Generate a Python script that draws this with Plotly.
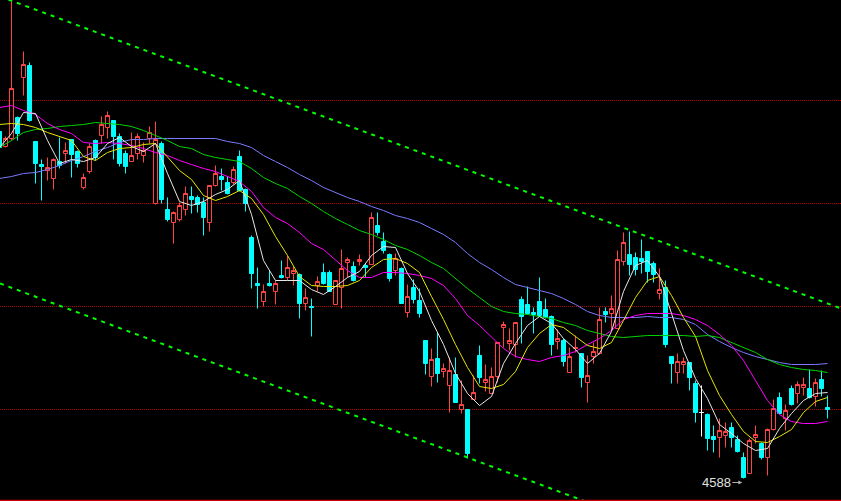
import plotly.graph_objects as go

# ---------------- data (prices) ----------------
open_ = [4935, 4920, 4928, 4949, 4989, 5001, 4925, 4902, 4896, 4888,
         4905, 4913, 4927, 4915, 4879, 4895, 4926, 4931, 4939, 4946,
         4930, 4913, 4905, 4913, 4911, 4928, 4863, 4923, 4857, 4844,
         4847, 4857, 4870, 4869, 4864, 4844, 4881, 4890, 4884, 4884,
         4910, 4877, 4829, 4783, 4765, 4783, 4775, 4791, 4789, 4793,
         4792, 4763, 4760, 4781, 4794, 4794, 4762, 4779, 4804, 4800,
         4805, 4801, 4802, 4841, 4825, 4812, 4796, 4798, 4754, 4779,
         4766, 4726, 4690, 4708, 4695, 4681, 4692, 4657, 4657, 4667,
         4711, 4684, 4673, 4690, 4739, 4723, 4722, 4767, 4762, 4754,
         4765, 4757, 4750, 4725, 4726, 4694, 4718, 4713, 4684, 4710,
         4713, 4755, 4753, 4738, 4805, 4812, 4809, 4808, 4815, 4803,
         4773, 4779, 4710, 4694, 4702, 4704, 4683, 4654, 4652, 4630,
         4629, 4631, 4639, 4627, 4609, 4593, 4629, 4623, 4609, 4637,
         4669, 4648, 4678, 4673, 4679, 4678, 4670, 4687, 4659]
high = [4938, 4930, 5076, 4950, 5015, 5004, 4925, 4907, 4909, 4908,
        4929, 4924, 4927, 4916, 4893, 4923, 4927, 4950, 4955, 4946,
        4933, 4916, 4934, 4933, 4924, 4940, 4945, 4925, 4869, 4855,
        4864, 4880, 4880, 4871, 4869, 4881, 4901, 4898, 4890, 4900,
        4916, 4878, 4831, 4799, 4782, 4796, 4786, 4806, 4811, 4800,
        4793, 4778, 4768, 4790, 4803, 4796, 4786, 4817, 4809, 4805,
        4812, 4803, 4854, 4854, 4834, 4813, 4813, 4799, 4782, 4787,
        4778, 4726, 4718, 4734, 4703, 4709, 4709, 4686, 4657, 4691,
        4721, 4702, 4699, 4724, 4745, 4738, 4744, 4770, 4780, 4759,
        4789, 4768, 4751, 4737, 4728, 4719, 4731, 4713, 4711, 4724,
        4759, 4759, 4771, 4816, 4834, 4835, 4814, 4827, 4815, 4805,
        4798, 4786, 4710, 4713, 4709, 4704, 4686, 4681, 4653, 4641,
        4648, 4644, 4644, 4631, 4614, 4628, 4641, 4624, 4638, 4667,
        4674, 4662, 4681, 4685, 4689, 4697, 4688, 4696, 4671]
low = [4916, 4919, 4926, 4926, 4971, 4945, 4883, 4866, 4886, 4877,
       4898, 4903, 4889, 4899, 4877, 4893, 4906, 4923, 4928, 4907,
       4900, 4893, 4905, 4907, 4904, 4923, 4862, 4863, 4845, 4823,
       4845, 4851, 4853, 4854, 4831, 4835, 4880, 4876, 4872, 4882,
       4875, 4855, 4778, 4758, 4760, 4780, 4762, 4788, 4786, 4781,
       4748, 4756, 4730, 4775, 4782, 4775, 4762, 4758, 4789, 4785,
       4801, 4789, 4802, 4831, 4813, 4785, 4791, 4763, 4749, 4763,
       4749, 4692, 4680, 4684, 4689, 4654, 4664, 4653, 4608, 4667,
       4683, 4675, 4673, 4684, 4719, 4716, 4709, 4723, 4752, 4733,
       4750, 4748, 4711, 4717, 4700, 4694, 4714, 4679, 4664, 4703,
       4712, 4744, 4736, 4738, 4801, 4791, 4791, 4793, 4784, 4784,
       4767, 4719, 4683, 4683, 4693, 4676, 4644, 4630, 4616, 4614,
       4609, 4619, 4619, 4614, 4588, 4593, 4623, 4607, 4591, 4636,
       4652, 4636, 4661, 4663, 4671, 4668, 4660, 4670, 4648]
close = [4919, 4928, 4978, 4933, 5002, 4946, 4903, 4900, 4899, 4907,
         4901, 4916, 4912, 4903, 4889, 4920, 4909, 4942, 4951, 4930,
         4903, 4900, 4911, 4930, 4916, 4934, 4927, 4867, 4847, 4854,
         4861, 4873, 4867, 4862, 4849, 4881, 4893, 4887, 4873, 4897,
         4876, 4863, 4793, 4781, 4775, 4781, 4783, 4789, 4799, 4796,
         4763, 4769, 4759, 4785, 4783, 4775, 4786, 4798, 4807, 4786,
         4807, 4799, 4849, 4834, 4816, 4788, 4808, 4763, 4770, 4767,
         4753, 4703, 4707, 4693, 4698, 4696, 4664, 4662, 4613, 4674,
         4689, 4687, 4690, 4724, 4742, 4726, 4744, 4750, 4753, 4752,
         4751, 4749, 4722, 4728, 4705, 4710, 4719, 4689, 4691, 4715,
         4747, 4752, 4758, 4807, 4824, 4802, 4797, 4805, 4795, 4792,
         4777, 4722, 4703, 4705, 4705, 4689, 4654, 4654, 4628, 4627,
         4636, 4635, 4629, 4615, 4589, 4626, 4632, 4609, 4637, 4658,
         4653, 4656, 4662, 4682, 4682, 4669, 4684, 4678, 4657]

# moving averages, every second bar
ma_idx = list(range(0, 139, 2))
ma5 = [4919, 4933, 4954, 4953, 4926, 4903, 4907, 4905, 4909, 4923,
       4929, 4920, 4915, 4923, 4893, 4865, 4861, 4865, 4872, 4877,
       4886, 4852, 4806, 4786, 4786, 4786, 4777, 4772, 4780, 4789,
       4795, 4811, 4820, 4819, 4793, 4775, 4746, 4722, 4693, 4673,
       4661, 4670, 4703, 4723, 4741, 4750, 4743, 4728, 4717, 4703,
       4713, 4735, 4775, 4801, 4806, 4790, 4753, 4716, 4688, 4668,
       4642, 4633, 4623, 4616, 4618, 4638, 4653, 4666, 4673, 4674]
ma10 = [4942, 4943, 4942, 4939, 4934, 4930, 4926, 4910, 4906, 4914,
        4918, 4919, 4922, 4923, 4909, 4896, 4887, 4871, 4866, 4870,
        4876, 4868, 4852, 4830, 4811, 4790, 4781, 4780, 4780, 4781,
        4786, 4799, 4807, 4808, 4803, 4794, 4770, 4747, 4722, 4699,
        4680, 4678, 4682, 4695, 4719, 4733, 4742, 4739, 4730, 4721,
        4718, 4724, 4746, 4769, 4786, 4790, 4771, 4749, 4730, 4696,
        4671, 4652, 4635, 4625, 4624, 4630, 4637, 4654, 4665, 4669]
ma20 = [4959, 4961, 4956, 4952, 4943, 4937, 4933, 4924, 4923, 4924,
        4923, 4921, 4918, 4914, 4911, 4906, 4902, 4898, 4895, 4890,
        4885, 4875, 4859, 4849, 4843, 4834, 4823, 4817, 4806, 4796,
        4789, 4789, 4794, 4794, 4793, 4791, 4788, 4781, 4768, 4751,
        4741, 4730, 4718, 4710, 4707, 4705, 4709, 4711, 4715, 4722,
        4728, 4736, 4747, 4751, 4753, 4753, 4753, 4751, 4747, 4741,
        4732, 4721, 4706, 4686, 4666, 4652, 4645, 4643, 4643, 4645]
ma40 = [4919, 4926, 4934, 4937, 4938, 4940, 4941, 4942, 4944, 4943,
        4942, 4940, 4936, 4931, 4926, 4920, 4918, 4912, 4909, 4907,
        4905, 4898, 4889, 4883, 4878, 4870, 4863, 4855, 4848, 4842,
        4836, 4832, 4827, 4821, 4817, 4811, 4804, 4798, 4788, 4778,
        4769, 4760, 4755, 4753, 4752, 4750, 4748, 4744, 4741, 4736,
        4733, 4730, 4729, 4730, 4731, 4731, 4731, 4731, 4730, 4731,
        4729, 4724, 4719, 4714, 4707, 4702, 4699, 4697, 4696, 4694]
ma60 = [4888, 4890, 4893, 4894, 4897, 4901, 4906, 4910, 4915, 4919,
        4924, 4927, 4927, 4928, 4928, 4928, 4928, 4928, 4928, 4925,
        4923, 4919, 4911, 4905, 4899, 4892, 4886, 4879, 4874, 4869,
        4865, 4860, 4856, 4851, 4848, 4844, 4838, 4832, 4824, 4813,
        4804, 4797, 4789, 4782, 4779, 4776, 4773, 4768, 4762, 4755,
        4751, 4749, 4749, 4749, 4750, 4749, 4749, 4747, 4742, 4732,
        4725, 4719, 4714, 4710, 4707, 4704, 4702, 4702, 4702, 4703]

grid_levels = [4966, 4863, 4760, 4657]
upper_channel = [5070, 4758]   # left edge, right edge
lower_channel = [4783, 4470]
low_label = "4588"

# ---------------- figure ----------------
UP = "#ff4444"
DOWN = "#00ffff"
x_all = list(range(len(open_)))

def subset(cond):
    idx = [i for i in x_all if cond(i)]
    return (idx, [open_[i] for i in idx], [high[i] for i in idx],
            [low[i] for i in idx], [close[i] for i in idx])

fig = go.Figure()
for cond, lc, fc in [
    (lambda i: close[i] > open_[i], UP, "#000000"),
    (lambda i: close[i] < open_[i], DOWN, DOWN),
    (lambda i: close[i] == open_[i], "#ffffff", "#ffffff"),
]:
    xi, o, h, l, c = subset(cond)
    fig.add_trace(go.Candlestick(
        x=xi, open=o, high=h, low=l, close=c,
        increasing=dict(line=dict(color=lc, width=1), fillcolor=fc),
        decreasing=dict(line=dict(color=lc, width=1), fillcolor=fc),
        whiskerwidth=0, showlegend=False, hoverinfo="skip"))

for vals, col in [(ma60, "#7a7aff"), (ma40, "#00d400"), (ma20, "#ff00ff"),
                  (ma10, "#e6e600"), (ma5, "#e8e8e8")]:
    fig.add_trace(go.Scatter(x=ma_idx, y=vals, mode="lines",
                             line=dict(color=col, width=1),
                             showlegend=False, hoverinfo="skip"))

shapes = []
for g in grid_levels:
    shapes.append(dict(type="line", xref="paper", x0=0, x1=1, yref="y", y0=g, y1=g,
                       line=dict(color="#b00000", width=1, dash="1px,1px"), layer="below"))
for ch in (upper_channel, lower_channel):
    shapes.append(dict(type="line", xref="paper", x0=0, x1=1, yref="y", y0=ch[0], y1=ch[1],
                       line=dict(color="#00ff00", width=2, dash="4px,5px")))
shapes.append(dict(type="line", xref="paper", x0=0, x1=1, yref="paper", y0=0.001, y1=0.001,
                   line=dict(color="#d00000", width=1.5)))

low_i = low.index(min(low))
fig.update_layout(
    width=841, height=501,
    margin=dict(l=0, r=0, t=0, b=0, pad=0),
    paper_bgcolor="#000000", plot_bgcolor="#000000",
    xaxis=dict(range=[1 / 12, 140.25], visible=False, rangeslider=dict(visible=False),
               fixedrange=True),
    yaxis=dict(range=[4565.5, 5066.5], visible=False, fixedrange=True),
    boxgap=0.33, boxgroupgap=0,
    shapes=shapes,
    annotations=[dict(x=low_i - 0.2, y=min(low) - 4, xref="x", yref="y", text=low_label,
                      showarrow=True, ax=-26, ay=0, arrowhead=2, arrowsize=0.8,
                      arrowwidth=1, arrowcolor="#b0b0b0", standoff=0,
                      font=dict(family="Liberation Sans", size=13, color="#e0e0e0"))],
)

fig.write_html("out.html", config={"displayModeBar": False},
               post_script="document.body.style.margin='0';")
